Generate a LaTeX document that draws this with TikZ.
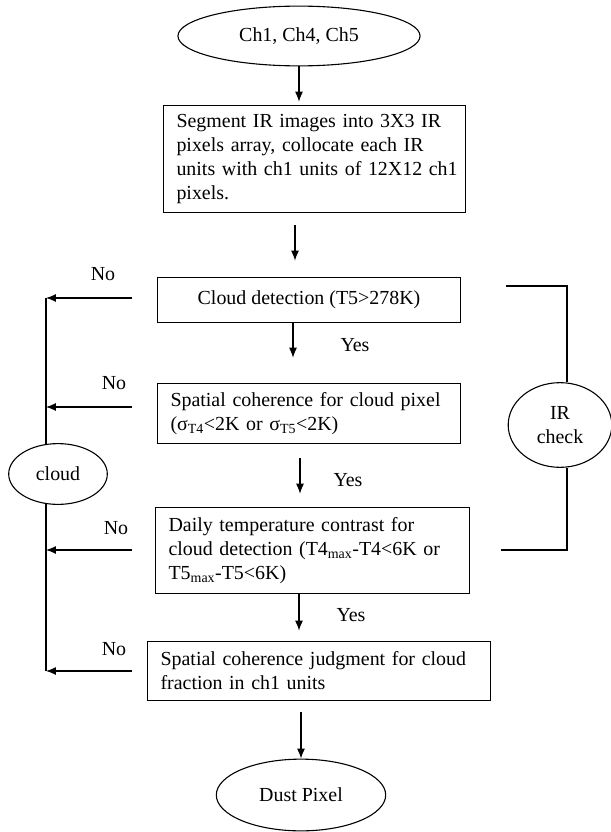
\documentclass[tikz,border=0pt]{standalone}
\usepackage{fontspec}
\setmainfont{Liberation Serif}
\usetikzlibrary{arrows.meta,shapes.geometric,calc}
\newcommand\tline[1]{\mbox{#1}}
\begin{document}
\begin{tikzpicture}[x=1bp,y=-1bp,line width=1.1pt,
  every node/.style={font=\fontsize{20}{24}\selectfont, text=black},
  oval/.style={draw, ellipse, inner sep=0pt},
  boxl/.style={draw, rectangle, align=left, inner xsep=13pt, inner ysep=0pt},
  boxc/.style={draw, rectangle, align=center, inner sep=0pt},
  arr/.style={-{Latex[length=10pt,width=8pt]}},
  lbl/.style={inner sep=0pt}]
\useasboundingbox (0,0) rectangle (611,832);
% main column
\node[oval, minimum width=243, minimum height=60] (top) at (299,36) {Ch1, Ch4, Ch5};
\node[boxl, text width=277, minimum height=108] (box1) at (314.5,159)
  {\tline{Segment IR images into 3X3 IR}\\\tline{pixels array, collocate each IR}\\\tline{units with ch1 units of 12X12 ch1}\\\tline{pixels.}};
\node[boxc, minimum width=304, minimum height=46] (box2) at (309,300) {Cloud detection (T5>278K)};
\node[boxl, text width=278, minimum height=61] (box3) at (309,413.5)
  {\tline{Spatial coherence for cloud pixel}\\\tline{(σ\textsubscript{T4}<2K or σ\textsubscript{T5}<2K)}};
\node[boxl, text width=289, minimum height=87] (box4) at (312.5,550.5)
  {\tline{Daily temperature contrast for}\\\tline{cloud detection (T4\textsubscript{max}-T4<6K or}\\\tline{T5\textsubscript{max}-T5<6K)}};
\node[boxl, text width=318, minimum height=60] (box5) at (319,671)
  {\tline{Spatial coherence judgment for cloud}\\\tline{fraction in ch1 units}};
\node[oval, minimum width=170, minimum height=72] (bot) at (301,795) {Dust Pixel};
% vertical arrows
\coordinate (c2) at (295,0);
\coordinate (c3) at (293,0);
\coordinate (c4) at (300,0);
\coordinate (c5) at (299,0);
\draw[arr, shorten >=3pt] (top.south) -- (top.south |- box1.north);
\draw[arr, shorten <=12pt, shorten >=16pt] (box1.south -| c2) -- (box2.north -| c2);
\draw[arr, shorten >=25pt] (box2.south -| c3) -- (box3.north -| c3);
\draw[arr, shorten <=14pt, shorten >=13pt] (box3.south -| c4) -- (box4.north -| c4);
\draw[arr, shorten >=10pt] (box4.south -| c5) -- (box5.north -| c5);
\draw[arr, shorten <=11pt] (box5.south -| bot.north) -- (bot.north);
% Yes labels
\node[lbl] (y1) at (355,345) {Yes};
\node[lbl] (y2) at (348,480) {Yes};
\node[lbl] (y3) at (351,615) {Yes};
% left side
\coordinate (L1) at (46,298);
\coordinate (L2) at (46,407);
\coordinate (L3) at (46,550);
\coordinate (L4) at (46,671);
\draw (L1) -- (L4);
\draw[arr, shorten <=25pt] (box2.west |- L1) -- (L1);
\draw[arr, shorten <=25pt] (box3.west |- L2) -- (L2);
\draw[arr, shorten <=23pt] (box4.west |- L3) -- (L3);
\draw[arr, shorten <=15pt] (box5.west |- L4) -- (L4);
\node[oval, fill=white, minimum width=99, minimum height=61] (cloud) at (58,474) {cloud};
\node[lbl] (n1) at (103,274) {No};
\node[lbl] (n2) at (114,383) {No};
\node[lbl] (n3) at (116,528) {No};
\node[lbl] (n4) at (114,649) {No};
% right side
\node[oval, minimum width=104, minimum height=85, align=center, font=\fontsize{20}{24}\selectfont] (ir) at (560,425) {IR\\check};
\coordinate (R1) at (567,286);
\coordinate (R2) at (567,550);
\draw[shorten <=45pt] (box2.east |- R1) -- (R1) -- (R1 |- ir.north);
\draw[shorten <=31pt] (box4.east |- R2) -- (R2) -- (R2 |- ir.south);
\end{tikzpicture}
\end{document}
